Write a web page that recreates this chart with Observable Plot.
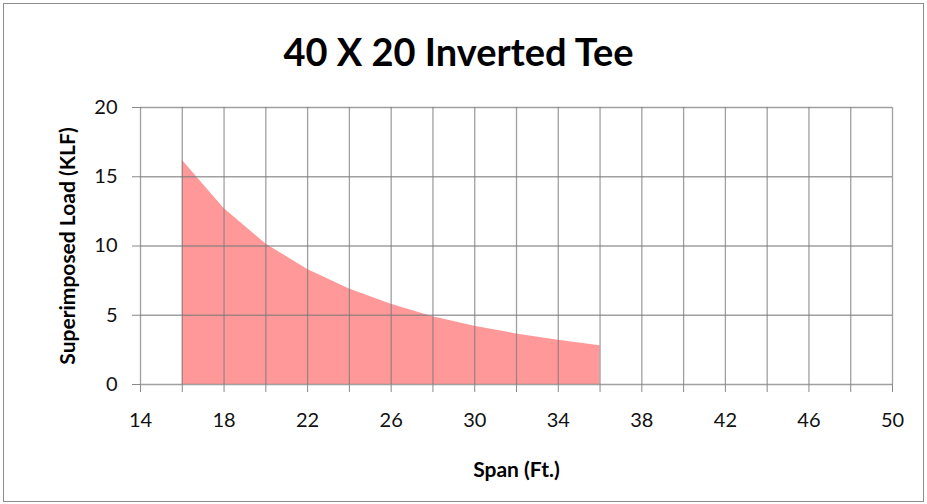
<!DOCTYPE html>
<html>
<head>
<meta charset="utf-8">
<script src="https://cdn.jsdelivr.net/npm/d3@7"></script>
<script src="https://cdn.jsdelivr.net/npm/@observablehq/plot@0.6"></script>
<style>
  html, body { margin: 0; padding: 0; background: #fff; }
  #wrap { position: relative; width: 927px; height: 504px; }
  #wrap svg { display: block; }
  #border { position: absolute; left: 3px; top: 3px; width: 921px; height: 499px;
            border: 1.5px solid #8c8c8c; box-sizing: border-box; pointer-events: none; }
</style>
</head>
<body>
<div id="wrap"><div id="border"></div></div>
<script>
const title = "40 X 20 Inverted Tee";
const xLabel = "Span (Ft.)";
const yLabel = "Superimposed Load (KLF)";
const span = [16, 18, 20, 22, 24, 26, 28, 30, 32, 34, 36];
const load = [16.2, 12.7, 10.15, 8.3, 6.9, 5.8, 4.9, 4.2, 3.65, 3.2, 2.8];
const xTickLabels = [14, 18, 22, 26, 30, 34, 38, 42, 46, 50];
const xGrid = [14, 16, 18, 20, 22, 24, 26, 28, 30, 32, 34, 36, 38, 40, 42, 44, 46, 48, 50];
const yTicks = [0, 5, 10, 15, 20];

const data = span.map((s, i) => ({span: s, load: load[i]}));
const font = "Lato, 'Open Sans', sans-serif";

const chart = Plot.plot({
  width: 927,
  height: 504,
  marginLeft: 140,
  marginRight: 35,
  marginTop: 107,
  marginBottom: 120,
  style: {fontFamily: font, background: "transparent"},
  x: {domain: [14, 50]},
  y: {domain: [0, 20]},
  marks: [
    Plot.areaY(data, {x: "span", y: "load", fill: "#ff9999"}),
    Plot.gridX(xGrid, {stroke: "#777", strokeOpacity: 0.7, strokeWidth: 1.3}),
    Plot.gridY(yTicks, {stroke: "#777", strokeOpacity: 0.7, strokeWidth: 1.3}),
    Plot.axisX(xGrid, {tickSize: 8, text: null, stroke: "#888", label: null}),
    Plot.axisX(xTickLabels, {tickSize: 0, tickPadding: 28, fontSize: 20, fill: "#111", label: null}),
    Plot.axisY(yTicks, {tickSize: 8, tickPadding: 15, fontSize: 20, fill: "#111", stroke: "#888", label: null}),
    Plot.text([title], {frameAnchor: "top", dx: -58, dy: -54, lineAnchor: "middle", fontSize: 38, fontWeight: "bold", fill: "#000"}),
    Plot.text([xLabel], {frameAnchor: "bottom", dy: 86, lineAnchor: "middle", textAnchor: "middle", fontSize: 21, fontWeight: "bold", fill: "#000"}),
    Plot.text([yLabel], {frameAnchor: "left", dx: -72, rotate: -90, lineAnchor: "middle", textAnchor: "middle", fontSize: 21, fontWeight: "bold", fill: "#000"})
  ]
});
document.getElementById("wrap").prepend(chart);
</script>
</body>
</html>
